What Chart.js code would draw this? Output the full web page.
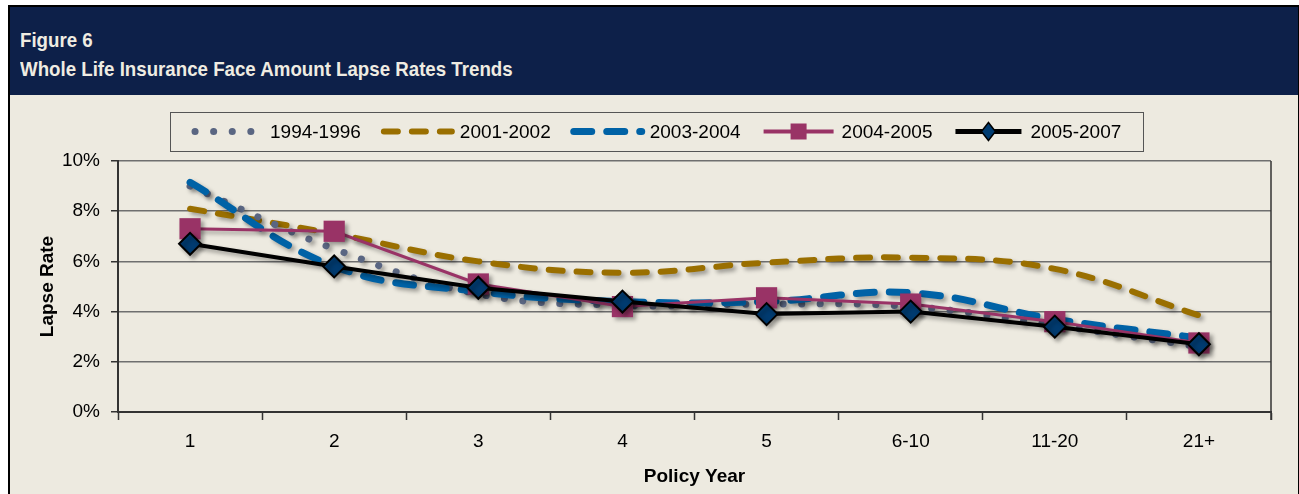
<!DOCTYPE html>
<html>
<head>
<meta charset="utf-8">
<script src="https://cdn.jsdelivr.net/npm/chart.js@4.4.1/dist/chart.umd.min.js"></script>
<style>
  html, body { margin: 0; padding: 0; background: #ffffff; overflow: hidden; }
  #frame {
    position: absolute; left: 8px; top: 5px; width: 1288px; height: 500px;
    border: 2px solid #000; background: #edeae0;
  }
  #header {
    position: absolute; left: 0; top: 0; width: 1288px; height: 88px;
    background: #0d2049; color: #efece2;
    font-family: 'Liberation Sans Narrow', 'Arial Narrow', 'Liberation Sans', Arial, sans-serif;
    font-weight: bold; font-size: 21px; line-height: 29px;
  }
  #header div {
    position: absolute; left: 10px; white-space: nowrap;
    transform: scaleX(0.89); transform-origin: 0 0;
  }
  #chartBox { position: absolute; left: 0; top: 88px; width: 1287px; height: 399px; }
</style>
</head>
<body>
<div id="frame">
  <div id="header">
    <div style="top:18px">Figure 6</div>
    <div style="top:47px">Whole Life Insurance Face Amount Lapse Rates Trends</div>
  </div>
  <div id="chartBox"><canvas id="myChart"></canvas></div>
</div>
<script>
const categories = ['1', '2', '3', '4', '5', '6-10', '11-20', '21+'];
const seriesNames = ['1994-1996', '2001-2002', '2003-2004', '2004-2005', '2005-2007'];
const rates1994 = [9.0, 6.5, 4.7, 4.25, 4.3, 4.2, 3.45, 2.6];
const rates2001 = [8.1, 7.1, 6.0, 5.55, 5.95, 6.15, 5.7, 3.85];
const rates2003 = [9.15, 5.8, 4.8, 4.4, 4.4, 4.75, 3.7, 2.95];
const rates2004 = [7.3, 7.2, 5.1, 4.2, 4.55, 4.3, 3.6, 2.75];
const rates2005 = [6.7, 5.8, 4.95, 4.4, 3.9, 4.0, 3.4, 2.7];
const yTicks = [0, 2, 4, 6, 8, 10];

const narrow = "'Liberation Sans Narrow', 'Arial Narrow', 'Liberation Sans', Arial, sans-serif";
const bold = "'Liberation Sans', Arial, sans-serif";

// drop shadow under the lines like the excel original
const shadowPlugin = {
    id: 'shadow',
    beforeDatasetsDraw(chart) {
        const ctx = chart.ctx;
        ctx.save();
        ctx.shadowColor = 'rgba(0,0,0,0.35)';
        ctx.shadowBlur = 4;
        ctx.shadowOffsetX = 3;
        ctx.shadowOffsetY = 3;
    },
    afterDatasetsDraw(chart) {
        chart.ctx.restore();
    }
};

// right border of the plot area
const framePlugin = {
    id: 'frame',
    afterDraw(chart) {
        const { ctx, chartArea } = chart;
        ctx.save();
        ctx.strokeStyle = '#333';
        ctx.lineWidth = 1.5;
        ctx.beginPath();
        ctx.moveTo(chartArea.right, chartArea.top);
        ctx.lineTo(chartArea.right, chartArea.bottom + 8);
        ctx.stroke();
        ctx.restore();
    }
};

// boxed legend drawn from the dataset styles
const legendPlugin = {
    id: 'boxLegend',
    afterDraw(chart) {
        const ctx = chart.ctx;
        const top = 17, h = 39, left = 160, right = 1133;
        const cy = top + h / 2;
        ctx.save();
        ctx.strokeStyle = '#555';
        ctx.lineWidth = 1;
        ctx.strokeRect(left + 0.5, top + 0.5, right - left, h);
        ctx.font = '19px ' + narrow;
        ctx.textBaseline = 'middle';
        ctx.fillStyle = '#000';
        let x = left + 25;
        const sampleW = [57, 68, 68, 70, 66];
        const textGap = [18, 8, 8, 8, 9];
        seriesNames.forEach((name, i) => {
            const ds = chart.data.datasets.find(d => d.label === name);
            const w = sampleW[i];
            ctx.save();
            ctx.strokeStyle = ds.borderColor;
            ctx.lineWidth = ds.pointStyle ? ds.borderWidth + 1 : ds.borderWidth;
            ctx.lineCap = ds.borderCapStyle || 'butt';
            ctx.setLineDash(ds.borderDash || []);
            ctx.beginPath();
            ctx.moveTo(x, cy);
            ctx.lineTo(x + w, cy);
            ctx.stroke();
            ctx.setLineDash([]);
            if (ds.pointStyle === 'rect') {
                ctx.fillStyle = ds.pointBackgroundColor;
                ctx.fillRect(x + w / 2 - 8, cy - 8, 16, 16);
            } else if (ds.pointStyle === 'rectRot') {
                ctx.fillStyle = ds.pointBackgroundColor;
                ctx.strokeStyle = ds.pointBorderColor;
                ctx.lineWidth = 1.5;
                ctx.beginPath();
                ctx.moveTo(x + w / 2, cy - 9);
                ctx.lineTo(x + w / 2 + 7, cy);
                ctx.lineTo(x + w / 2, cy + 9);
                ctx.lineTo(x + w / 2 - 7, cy);
                ctx.closePath();
                ctx.fill();
                ctx.stroke();
            }
            ctx.restore();
            const tx = x + w + textGap[i];
            ctx.fillText(name, tx, cy + 1);
            x = tx + ctx.measureText(name).width + 23;
        });
        ctx.restore();
    }
};

function renderChart() {
    const ctx = document.getElementById('myChart');
    new Chart(ctx, {
        type: 'line',
        data: {
            labels: categories,
            datasets: [{
                label: seriesNames[0],
                data: rates1994,
                borderColor: '#5a6682',
                borderWidth: 7,
                borderCapStyle: 'round',
                borderDash: [0.1, 18.5],
                tension: 0.4,
                pointRadius: 0,
                order: 3
            }, {
                label: seriesNames[1],
                data: rates2001,
                borderColor: '#9a6f00',
                borderWidth: 6,
                borderCapStyle: 'round',
                borderDash: [14, 14],
                tension: 0.4,
                pointRadius: 0,
                order: 4
            }, {
                label: seriesNames[2],
                data: rates2003,
                borderColor: '#0062a6',
                borderWidth: 7,
                borderCapStyle: 'round',
                borderDash: [18, 15],
                tension: 0.4,
                pointRadius: 0,
                order: 2
            }, {
                label: seriesNames[3],
                data: rates2004,
                borderColor: '#993366',
                borderWidth: 3,
                tension: 0,
                pointStyle: 'rect',
                pointRadius: 15,
                pointBackgroundColor: '#993366',
                pointBorderColor: '#993366',
                pointBorderWidth: 0,
                order: 1
            }, {
                label: seriesNames[4],
                data: rates2005,
                borderColor: '#000000',
                borderWidth: 4,
                tension: 0,
                pointStyle: 'rectRot',
                pointRadius: 11,
                pointBackgroundColor: '#003b70',
                pointBorderColor: '#000000',
                pointBorderWidth: 2,
                order: 0
            }]
        },
        options: {
            responsive: true,
            maintainAspectRatio: false,
            animation: false,
            layout: { padding: { top: 66, right: 26, left: 0, bottom: 0 } },
            plugins: {
                legend: { display: false },
                tooltip: { enabled: false }
            },
            scales: {
                x: {
                    offset: true,
                    afterFit(scale) { scale.height = 82; },
                    grid: {
                        offset: true,
                        drawOnChartArea: false,
                        drawTicks: true,
                        tickLength: 8,
                        tickColor: '#333',
                        tickWidth: 1.5
                    },
                    border: { color: '#333', width: 2 },
                    ticks: {
                        color: '#000',
                        padding: 10,
                        font: { family: narrow, size: 19 }
                    },
                    title: {
                        display: true,
                        text: 'Policy Year',
                        color: '#000',
                        padding: { top: 0, bottom: 6 },
                        font: { family: bold, size: 19, weight: 'bold' }
                    }
                },
                y: {
                    min: 0,
                    max: 10,
                    afterFit(scale) { scale.width = 108; },
                    afterBuildTicks(scale) {
                        scale.ticks = yTicks.map(v => ({ value: v }));
                    },
                    grid: {
                        color: '#6f6f6f',
                        lineWidth: 1.5,
                        drawTicks: true,
                        tickLength: 7,
                        tickColor: '#333'
                    },
                    border: { color: '#333', width: 2 },
                    ticks: {
                        color: '#000',
                        padding: 11,
                        font: { family: narrow, size: 19 },
                        callback: v => v + '%'
                    },
                    title: {
                        display: true,
                        text: 'Lapse Rate',
                        color: '#000',
                        padding: { top: 26, bottom: 0 },
                        font: { family: bold, size: 19, weight: 'bold' }
                    }
                }
            }
        },
        plugins: [shadowPlugin, framePlugin, legendPlugin]
    });
}

renderChart();
</script>
</body>
</html>
